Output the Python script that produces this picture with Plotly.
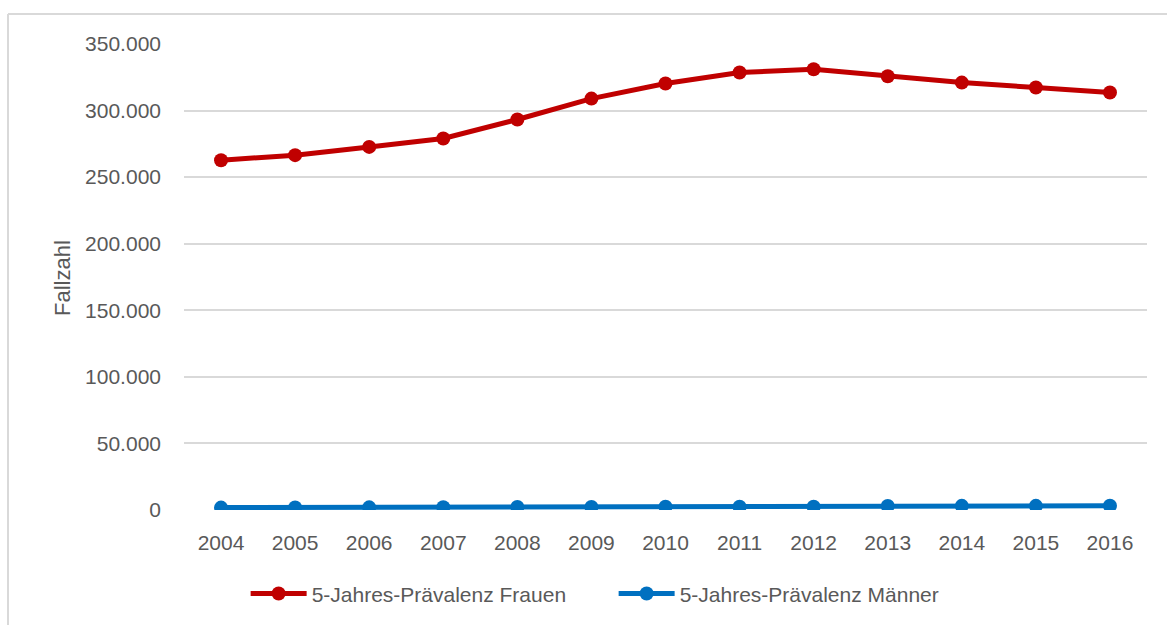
import plotly.graph_objects as go

# Five-year prevalence case counts by year
years = ["2004", "2005", "2006", "2007", "2008", "2009", "2010",
         "2011", "2012", "2013", "2014", "2015", "2016"]
frauen = [262700, 266500, 272700, 279000, 293300, 309000, 320300,
          328600, 331000, 325800, 321000, 317300, 313600]
maenner = [1800, 1900, 2000, 2100, 2200, 2300, 2400,
           2400, 2400, 3000, 3100, 3100, 3200]

y_ticks = [0, 50000, 100000, 150000, 200000, 250000, 300000, 350000]
y_tick_text = ["0", "50.000", "100.000", "150.000", "200.000",
               "250.000", "300.000", "350.000"]

FONT = "Liberation Sans"
TEXT = "#595959"
GRID = "#D9D9D9"

fig = go.Figure()
fig.add_trace(go.Scatter(
    x=years, y=frauen, name="5-Jahres-Prävalenz Frauen",
    mode="lines+markers",
    line=dict(color="#C00000", width=5),
    marker=dict(color="#C00000", size=14),
))
fig.add_trace(go.Scatter(
    x=years, y=maenner, name="5-Jahres-Prävalenz Männer",
    mode="lines+markers",
    line=dict(color="#0070C0", width=5),
    marker=dict(color="#0070C0", size=14),
))

fig.update_layout(
    width=1167, height=625,
    margin=dict(l=184, r=20, t=44, b=115, autoexpand=False),
    paper_bgcolor="white", plot_bgcolor="white",
    font=dict(family=FONT, size=21, color=TEXT),
    showlegend=True,
    legend=dict(
        orientation="h", x=0.064, xanchor="left", y=-0.18, yanchor="middle",
        font=dict(family=FONT, size=21, color=TEXT),
        itemwidth=56, entrywidth=297, traceorder="normal",
    ),
    xaxis=dict(
        type="category", range=[-0.5, 12.5],
        showgrid=False, zeroline=False, showline=False,
        ticks="", ticklabelstandoff=18,
        tickfont=dict(family=FONT, size=21, color=TEXT),
    ),
    yaxis=dict(
        range=[0, 350000], tickvals=y_ticks, ticktext=y_tick_text,
        showgrid=True, gridcolor=GRID, gridwidth=2,
        zeroline=False, showline=False,
        ticks="", ticklabelstandoff=22,
        tickfont=dict(family=FONT, size=21, color=TEXT),
    ),
    annotations=[dict(
        text="Fallzahl", xref="paper", yref="paper",
        x=(62 - 184) / 963, y=(510 - 278) / 466,
        xanchor="center", yanchor="middle", textangle=-90,
        showarrow=False, font=dict(family=FONT, size=22, color=TEXT),
    )],
    shapes=[
        # outer frame (top and left edges)
        dict(type="line", xref="paper", yref="paper",
             x0=(8 - 184) / 963, x1=1.05, y0=1 + 30 / 466, y1=1 + 30 / 466,
             line=dict(color="#D9D9D9", width=2)),
        dict(type="line", xref="paper", yref="paper",
             x0=(8 - 184) / 963, x1=(8 - 184) / 963, y0=1 + 30 / 466, y1=-0.3,
             line=dict(color="#D9D9D9", width=2)),
    ],
)

fig.write_html("out.html")
